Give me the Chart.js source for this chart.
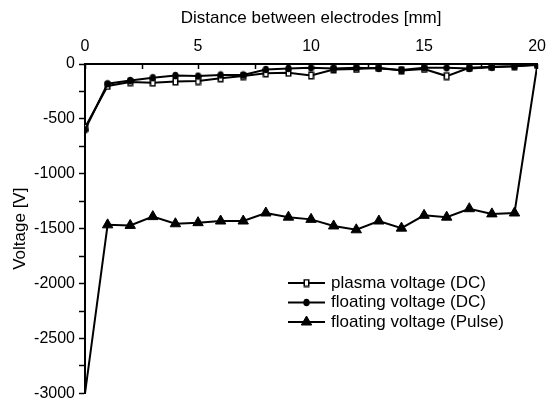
<!DOCTYPE html>
<html>
<head>
<meta charset="utf-8">
<script src="https://cdn.jsdelivr.net/npm/chart.js@4/dist/chart.umd.min.js"></script>
<style>
    html, body { margin: 0; padding: 0; background: #fff; }
    #chart { display: block; }
</style>
</head>
<body>
<canvas id="chart" width="554" height="407"></canvas>
<script>
// distance between electrodes [mm]
var distance      = [0, 1, 2, 3, 4, 5, 6, 7, 8, 9, 10, 11, 12, 13, 14, 15, 16, 17, 18, 19, 20];

// voltage [V]
var plasmaDC      = [-580, -200, -165, -170, -160, -155, -130, -110, -85, -80, -105, -50, -45, -35, -60, -45, -110, -35, -25, -20, -5];
var floatingDC    = [-600, -180, -150, -125, -105, -110, -100, -100, -50, -40, -35, -40, -35, -40, -55, -35, -35, -40, -30, -20, -10];
var floatingPulse = [-3000, -1465, -1470, -1390, -1455, -1445, -1430, -1430, -1357, -1395, -1415, -1475, -1510, -1430, -1495, -1378, -1395, -1318, -1365, -1357, -20];

var seriesNames   = ['plasma voltage (DC)', 'floating voltage (DC)', 'floating voltage (Pulse)'];
var xTickLabels   = [0, 5, 10, 15, 20];
var yTickLabels   = [0, -500, -1000, -1500, -2000, -2500, -3000];

var FONT = '"Liberation Sans", Arial, sans-serif';

/**
 * Turn a list of y values into {x, y} points on the distance axis
 *
 * @param array values
 */
function toPoints(values) {
    return distance.map(function (d, i) {
        return { x: d, y: values[i] };
    });
}

/**
 * Marker images: narrow open box and tall dot, like the original plot
 */
function makeMarker(kind) {
    var c = document.createElement('canvas');
    c.width = 7;
    c.height = 9;
    var g = c.getContext('2d');
    if (kind === 'box') {
        g.fillStyle = '#fff';
        g.fillRect(1, 1, 5, 7);
        g.strokeStyle = '#000';
        g.lineWidth = 1.5;
        g.strokeRect(1.25, 1.25, 4.5, 6.5);
    } else {
        g.fillStyle = '#000';
        g.beginPath();
        g.ellipse(3.5, 4.5, 3.2, 3.8, 0, 0, Math.PI * 2);
        g.fill();
    }
    return c;
}

var boxMarker = makeMarker('box');
var dotMarker = makeMarker('dot');

/**
 * Small inward ticks on the top axis (every 2.5 mm)
 */
var topTicks = {
    id: 'topTicks',
    afterDraw: function (chart) {
        var ctx = chart.ctx;
        var xs = chart.scales.x;
        var top = chart.chartArea.top;
        ctx.save();
        ctx.strokeStyle = '#000';
        ctx.lineWidth = 1.5;
        for (var v = 0; v <= 20; v += 2.5) {
            var px = Math.round(xs.getPixelForValue(v)) + 0.5;
            ctx.beginPath();
            ctx.moveTo(px, top);
            ctx.lineTo(px, top + 5);
            ctx.stroke();
        }
        ctx.restore();
    }
};

/**
 * Legend drawn inside the plot as  —marker—  label
 */
var lineLegend = {
    id: 'lineLegend',
    afterDraw: function (chart, args, opts) {
        var ctx = chart.ctx;
        ctx.save();
        ctx.font = opts.fontSize + 'px ' + FONT;
        ctx.textBaseline = 'middle';
        ctx.textAlign = 'left';
        chart.data.datasets.forEach(function (ds, i) {
            var y = opts.y + i * opts.rowHeight;
            ctx.strokeStyle = '#000';
            ctx.lineWidth = 2;
            ctx.beginPath();
            ctx.moveTo(opts.x, y);
            ctx.lineTo(opts.x + opts.lineWidth, y);
            ctx.stroke();

            ctx.fillStyle = '#000';
            ctx.strokeStyle = '#000';
            ctx.lineWidth = 1;
            Chart.helpers.drawPoint(ctx, {
                pointStyle: ds.pointStyle,
                radius: ds.legendRadius,
                borderWidth: 1,
                rotation: 0
            }, opts.x + opts.lineWidth / 2, y);

            ctx.fillStyle = '#000';
            ctx.fillText(ds.label, opts.x + opts.lineWidth + opts.textGap, y);
        });
        ctx.restore();
    }
};

var endsHidden = distance.map(function (d) {
    return (d === 0 || d === 20) ? 0 : 6;
});

new Chart(document.getElementById('chart'), {
    type: 'line',
    data: {
        datasets: [
            {
                label: seriesNames[0],
                data: toPoints(plasmaDC),
                borderColor: '#000',
                borderWidth: 2,
                pointStyle: boxMarker,
                pointRadius: 4,
                legendRadius: 4,
                order: 1
            },
            {
                label: seriesNames[1],
                data: toPoints(floatingDC),
                borderColor: '#000',
                borderWidth: 2,
                pointStyle: dotMarker,
                pointRadius: 4,
                legendRadius: 3,
                order: 0
            },
            {
                label: seriesNames[2],
                data: toPoints(floatingPulse),
                borderColor: '#000',
                borderWidth: 2,
                pointStyle: 'triangle',
                pointRadius: endsHidden,
                legendRadius: 6,
                pointBackgroundColor: '#000',
                pointBorderColor: '#000',
                pointBorderWidth: 1,
                order: 2
            }
        ]
    },
    options: {
        responsive: false,
        animation: false,
        devicePixelRatio: 1,
        layout: {
            padding: { left: 0, top: 0, right: 12, bottom: 9 }
        },
        plugins: {
            legend: { display: false },
            tooltip: { enabled: false },
            lineLegend: { x: 288, y: 283, lineWidth: 37, rowHeight: 19.5, textGap: 6, fontSize: 17 }
        },
        elements: {
            line: { tension: 0 }
        },
        scales: {
            x: {
                type: 'linear',
                position: 'top',
                min: 0,
                max: 20,
                afterBuildTicks: function (scale) {
                    scale.ticks = xTickLabels.map(function (v) { return { value: v }; });
                },
                afterFit: function (scale) {
                    scale.height = 64;
                },
                ticks: {
                    color: '#000',
                    padding: 8,
                    maxRotation: 0,
                    font: { family: FONT, size: 16 }
                },
                grid: {
                    display: true,
                    drawOnChartArea: false,
                    drawTicks: false
                },
                border: { display: true, color: '#000', width: 2 },
                title: {
                    display: true,
                    text: 'Distance between electrodes [mm]',
                    color: '#000',
                    font: { family: FONT, size: 17 },
                    padding: { top: 8, bottom: 0 }
                }
            },
            y: {
                type: 'linear',
                position: 'left',
                min: -3000,
                max: 0,
                afterFit: function (scale) {
                    scale.width = 85;
                },
                ticks: {
                    stepSize: 250,
                    color: '#000',
                    padding: 4,
                    font: { family: FONT, size: 16 },
                    callback: function (value) {
                        return yTickLabels.indexOf(value) >= 0 ? String(value) : '';
                    }
                },
                grid: {
                    display: true,
                    drawOnChartArea: false,
                    drawTicks: true,
                    tickLength: 6,
                    tickWidth: 1.5,
                    tickColor: '#000'
                },
                border: { display: true, color: '#000', width: 2 },
                title: {
                    display: true,
                    text: 'Voltage [V]',
                    color: '#000',
                    font: { family: FONT, size: 17 },
                    padding: { top: 10, bottom: 0 }
                }
            }
        }
    },
    plugins: [topTicks, lineLegend]
});
</script>
</body>
</html>
